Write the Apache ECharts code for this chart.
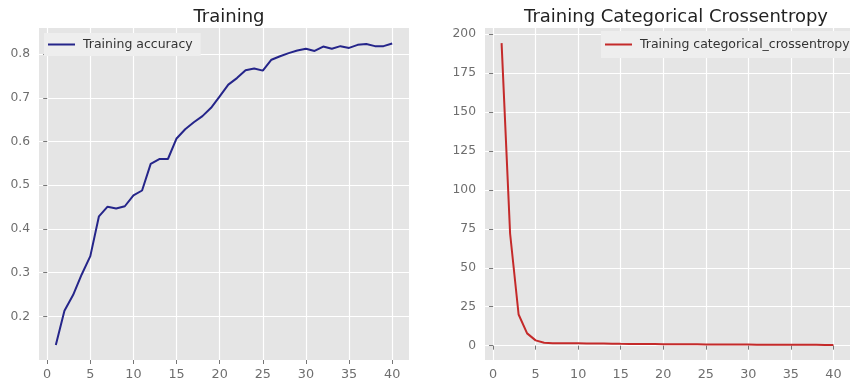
<!DOCTYPE html>
<html><head><meta charset="utf-8">
<script src="https://cdn.jsdelivr.net/npm/echarts@6/dist/echarts.min.js"></script>
<style>html,body{margin:0;padding:0;background:#fff}#c{width:850px;height:388px}</style>
</head><body><div id="c"></div>
<script>
const epochs = Array.from({length: 40}, (_, i) => i + 1);
const accuracy = [0.135,0.213,0.249,0.296,0.338,0.429,0.451,0.447,0.452,0.477,
  0.488,0.549,0.560,0.560,0.607,0.628,0.644,0.658,0.677,0.703,
  0.730,0.745,0.763,0.767,0.762,0.787,0.795,0.802,0.808,0.812,
  0.807,0.817,0.812,0.818,0.814,0.821,0.823,0.818,0.818,0.824];
const crossentropy = [194.2,72,20,7.9,3.4,1.9,1.6,1.55,1.5,1.5,
  1.45,1.4,1.35,1.3,1.2,1.15,1.1,1.05,1.0,0.95,
  0.9,0.9,0.85,0.85,0.8,0.8,0.75,0.75,0.7,0.7,
  0.65,0.65,0.6,0.6,0.6,0.55,0.55,0.55,0.5,0.5];
const xTicks = [0,5,10,15,20,25,30,35,40];
const accTicks = [0.2,0.3,0.4,0.5,0.6,0.7,0.8];
const lossTicks = [0,25,50,75,100,125,150,175,200];
const titles = ['Training','Training Categorical Crossentropy'];
const seriesNames = ['Training accuracy','Training categorical_crossentropy'];

const font = 'DejaVu Sans';
const chart = echarts.init(document.getElementById('c'));
function xAxis(gi){
  return {type:'value', gridIndex:gi, min:-0.95, max:41.95,
    axisLine:{show:false},
    axisTick:{show:true, customValues:xTicks, length:4, lineStyle:{color:'#777'}},
    axisLabel:{customValues:xTicks, margin:8, color:'#6e6e6e', fontFamily:font, fontSize:12.8},
    splitLine:{show:true, lineStyle:{color:'#ffffff', width:1.2}}};
}
function yAxis(gi, min, max, ticks, fmt){
  return {type:'value', gridIndex:gi, min:min, max:max,
    axisLine:{show:false},
    axisTick:{show:true, customValues:ticks, length:4, lineStyle:{color:'#777'}},
    axisLabel:{customValues:ticks, margin:9, color:'#6e6e6e', fontFamily:font, fontSize:12.3, formatter:fmt},
    splitLine:{show:true, lineStyle:{color:'#ffffff', width:1.2}}};
}
const legendBase = {itemWidth:27, itemHeight:2, icon:'rect', backgroundColor:'#eeeeee',
  textStyle:{fontFamily:font, fontSize:12.5, color:'#333', padding:[0,0,0,3]}};
chart.setOption({
  animation:false,
  backgroundColor:'#ffffff',
  title:[
    {text:titles[0], left:224, top:3, textAlign:'center', textStyle:{fontFamily:font, fontSize:18, fontWeight:'normal', color:'#222'}},
    {text:titles[1], left:671, top:3, textAlign:'center', textStyle:{fontFamily:font, fontSize:18, fontWeight:'normal', color:'#222'}}
  ],
  grid:[
    {left:39, top:28, width:370, height:332, backgroundColor:'#e5e5e5', show:true, borderWidth:0},
    {left:485, top:28, width:371, height:332, backgroundColor:'#e5e5e5', show:true, borderWidth:0}
  ],
  legend:[
    Object.assign({data:[seriesNames[0]], left:44, top:33, padding:[5,8,5,4]}, legendBase),
    Object.assign({data:[seriesNames[1]], left:601, top:31, padding:[7,12,7,4]}, legendBase)
  ],
  xAxis:[xAxis(0), xAxis(1)],
  yAxis:[
    yAxis(0, 0.1005, 0.8595, accTicks, v => v.toFixed(1)),
    yAxis(1, -9.2, 203.9, lossTicks, v => String(v))
  ],
  series:[
    {name:seriesNames[0], type:'line', xAxisIndex:0, yAxisIndex:0, symbol:'none',
     lineStyle:{color:'#25258a', width:2}, itemStyle:{color:'#25258a'},
     data: epochs.map((e,i)=>[e, accuracy[i]])},
    {name:seriesNames[1], type:'line', xAxisIndex:1, yAxisIndex:1, symbol:'none',
     lineStyle:{color:'#c42a2a', width:2}, itemStyle:{color:'#c42a2a'},
     data: epochs.map((e,i)=>[e, crossentropy[i]])}
  ]
});
</script></body></html>
